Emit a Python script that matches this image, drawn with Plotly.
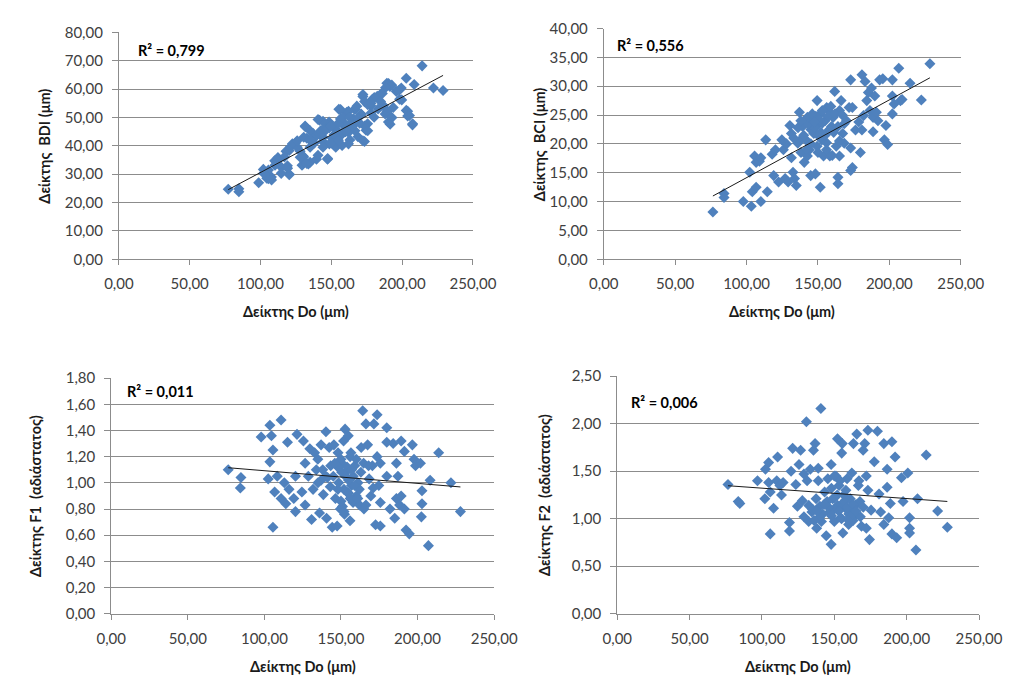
import numpy as np
import plotly.graph_objects as go

# ---------------- data ----------------
# Panel A: Do vs BDI
do_bdi = [77.2, 84.7, 84.7, 98.7, 103.2, 105.5, 107.7, 102.0, 110.0, 112.3, 114.6, 120.2, 119.0, 118.0,
          121.3, 124.7, 128.0, 130.0, 131.5, 132.7, 133.8, 135.0, 137.2, 139.5, 141.7, 142.8, 144.0, 146.2,
          147.3, 148.4, 150.7, 153.0, 154.0, 155.3, 156.4, 157.5, 158.7, 160.9, 162.0, 163.1, 165.4, 166.5,
          168.8, 171.0, 172.3, 173.4, 174.5, 175.6, 177.9, 179.0, 180.2, 182.4, 184.6, 186.9, 188.0, 189.2,
          190.3, 191.4, 192.5, 193.7, 195.9, 198.2, 199.4, 202.9, 202.9, 205.2, 207.4, 208.5, 214.1, 222.1,
          228.9, 190.4, 192.7, 188.2, 198.0, 199.7, 186.0, 180.3, 172.3, 173.5, 184.8, 189.3, 192.7, 191.5,
          203.9, 203.9, 207.3, 175.7, 178.0, 171.2, 166.7, 168.9, 162.1, 156.5, 164.4, 159.9, 173.5, 175.7,
          172.3, 166.7, 162.1, 157.6, 153.1, 148.6, 144.1, 140.6, 131.6, 135.0, 139.5, 144.1, 148.6, 153.1,
          157.6, 162.1, 144.1, 147.4, 140.6, 135.0, 130.5, 129.3, 132.7, 125.9, 122.5, 125.9, 130.5, 120.3,
          116.9, 112.4, 110.2, 119.1, 120.3, 114.6, 105.6, 104.4, 102.2, 107.8,
          145.0, 150.0, 152.0, 155.0, 158.0, 160.0, 163.0, 165.0, 150.0, 138.0, 142.0, 170.0, 168.0, 178.0,
          183.0, 135.0, 155.0, 128.0]
bdi = [24.7, 24.9, 23.8, 27.0, 30.6, 28.4, 29.0, 31.7, 34.7, 35.9, 32.5, 30.1, 33.0, 38.1,
       39.8, 41.0, 38.1, 36.4, 47.0, 42.7, 33.6, 34.2, 44.3, 35.3, 49.0, 45.5, 41.5, 46.6,
       35.3, 48.4, 42.7, 39.9, 45.5, 52.9, 49.5, 44.3, 47.2, 51.8, 46.6, 42.1, 49.5, 52.9,
       43.2, 51.2, 58.1, 41.5, 45.5, 47.8, 54.1, 56.4, 50.1, 57.5, 58.1, 54.1, 51.2, 62.1,
       48.4, 60.9, 50.1, 53.5, 59.2, 56.4, 60.4, 63.8, 52.5, 50.7, 47.8, 61.6, 68.2, 60.4,
       59.5, 62.0, 61.4, 60.5, 59.7, 56.2, 58.5, 57.0, 57.4, 55.6, 55.6, 52.2, 49.9, 47.6,
       52.2, 50.5, 47.4, 54.5, 51.6, 51.0, 52.8, 49.9, 52.2, 52.8, 48.2, 47.6, 47.0, 45.3,
       41.8, 45.3, 44.7, 44.1, 43.0, 46.4, 48.7, 49.3, 46.7, 45.3, 43.6, 43.0, 40.7, 39.5,
       40.1, 40.7, 39.5, 35.5, 36.7, 39.5, 36.1, 33.2, 33.8, 39.5, 40.7, 41.8, 43.0, 38.4,
       36.1, 34.9, 33.2, 32.1, 29.8, 30.3, 31.5, 28.6, 30.3, 28.0,
       45.0, 47.0, 44.0, 48.0, 50.0, 45.0, 50.0, 47.0, 41.0, 41.0, 44.0, 48.0, 54.0, 55.0,
       53.0, 42.0, 42.0, 36.0]

# Panel B: Do vs BCI
do_bci = [76.4, 84.2, 84.2, 97.7, 102.2, 103.3, 104.0, 106.7, 105.6, 106.7, 109.0, 110.0, 110.0, 113.4,
          114.5, 117.9, 119.0, 120.2, 122.4, 124.7, 125.8, 127.0, 129.1, 130.3, 131.4, 131.4, 132.5, 133.6,
          134.8, 135.9, 137.0, 138.1, 139.2, 140.4, 141.5, 142.6, 142.6, 144.9, 146.0, 147.1, 148.2, 149.4,
          149.4, 150.5, 151.6, 151.6, 152.7, 153.9, 155.0, 156.1, 157.2, 158.3, 159.5, 160.6, 161.7, 162.8,
          164.0, 164.0, 165.1, 165.1, 166.2, 167.3, 168.4, 168.4, 171.8, 172.9, 172.9, 172.9, 174.1, 174.1,
          176.3, 178.6, 179.7, 180.8, 180.8, 181.9, 183.0, 184.2, 185.3, 186.4, 187.5, 188.6, 188.6, 189.8,
          190.9, 192.0, 193.2, 195.4, 197.6, 196.5, 198.8, 202.1, 202.1, 202.1, 203.3, 206.6, 207.8, 208.9,
          214.5, 222.4, 228.4, 145.0, 148.5, 153.0, 156.0, 158.5, 144.0, 150.0, 161.0, 139.0, 136.0,
          143.0, 146.0, 148.0, 151.0, 153.0, 155.0, 157.0, 159.0, 162.0, 164.0, 167.0, 170.0, 140.0, 138.0,
          145.0, 150.0, 156.0, 160.0, 165.0, 147.0, 152.0, 158.0, 133.0, 128.0, 142.0]
bci = [8.2, 11.4, 10.7, 10.0, 15.1, 9.2, 11.7, 12.5, 17.9, 16.8, 17.0, 17.6, 10.0, 20.7,
       11.7, 18.2, 14.5, 19.0, 13.4, 20.7, 19.0, 14.0, 13.4, 23.2, 21.8, 17.6, 15.1, 14.0,
       12.8, 20.1, 25.5, 18.5, 23.0, 16.8, 20.7, 24.6, 17.9, 14.5, 24.0, 21.8, 14.8, 27.5,
       19.6, 23.5, 25.2, 12.5, 20.7, 17.9, 24.0, 26.3, 22.1, 17.9, 23.0, 24.6, 29.1, 19.6,
       14.2, 13.1, 25.8, 17.9, 27.5, 21.8, 23.5, 20.1, 26.3, 31.1, 19.3, 15.4, 26.3, 15.9,
       22.4, 23.8, 18.5, 22.4, 32.0, 24.9, 30.8, 27.5, 28.9, 25.8, 29.7, 24.6, 22.1, 28.3,
       25.5, 24.0, 31.1, 31.3, 23.2, 20.7, 19.9, 31.1, 28.3, 25.2, 26.9, 33.1, 27.5, 27.7,
       30.5, 27.6, 33.9, 22.5, 24.8, 23.6, 20.2, 25.5, 19.0, 21.5, 22.0, 21.0, 22.8,
       23.5, 25.2, 22.8, 24.2, 25.8, 21.5, 24.8, 26.5, 25.2, 23.0, 25.0, 24.0, 21.5, 24.0,
       20.0, 18.5, 19.0, 18.0, 20.5, 23.8, 22.0, 22.5, 21.0, 20.0, 19.0]

# Panel C: Do vs F1
do_f1 = [76.4, 84.7, 84.3, 97.9, 103.6, 104.6, 103.6, 105.6, 102.5, 105.6, 110.9, 108.4, 106.7, 110.9,
         115.1, 113.0, 116.1, 114.0, 121.3, 120.3, 119.2, 120.3, 125.5, 126.6, 124.5, 126.6, 128.7, 129.7,
         130.8, 131.8, 132.8, 133.9, 134.9, 136.0, 137.0, 138.1, 138.5, 140.2, 140.6, 141.2, 142.3, 143.3,
         144.3, 145.4, 146.4, 147.5, 148.1, 148.5, 149.6, 150.6, 151.7, 152.3, 152.7, 153.1, 153.8, 154.8,
         155.9, 156.5, 156.9, 157.9, 159.0, 160.0, 161.1, 162.1, 163.2, 164.2, 164.8, 166.3, 166.3, 167.4,
         168.4, 169.5, 170.5, 171.5, 172.6, 173.6, 173.6, 174.7, 175.7, 175.7, 175.7, 179.9, 179.9, 179.9,
         182.0, 184.1, 185.1, 186.2, 186.2, 187.2, 188.3, 189.3, 189.3, 191.4, 191.4, 192.5, 194.6, 196.6,
         197.7, 198.7, 201.9, 202.9, 202.9, 202.5, 207.1, 208.2, 213.8, 221.8, 228.0, 150.5, 152.0, 154.0,
         156.0, 158.0, 160.0, 151.0, 155.0, 145.0, 143.0, 137.0, 162.0,
         148.0, 150.0, 153.0, 155.0, 157.0, 159.0, 161.0, 150.0, 146.0, 163.0, 165.0, 152.0, 148.0, 156.0,
         140.0, 135.0, 168.0, 171.0]
f1 = [1.10, 1.04, 0.96, 1.35, 1.44, 1.36, 1.16, 1.25, 1.03, 0.66, 1.48, 1.05, 0.93, 0.88,
      1.31, 1.00, 0.95, 0.84, 1.37, 1.05, 0.88, 0.78, 1.32, 1.15, 0.93, 0.83, 1.05, 1.26,
      0.72, 0.95, 1.23, 1.10, 1.18, 0.77, 1.29, 1.10, 0.91, 1.39, 0.73, 1.04, 1.27, 1.13,
      0.66, 1.29, 0.88, 0.67, 1.23, 1.00, 0.80, 1.15, 1.32, 0.76, 1.41, 1.08, 0.93, 1.36,
      0.71, 1.23, 0.98, 0.85, 1.13, 0.90, 1.00, 0.83, 1.27, 1.55, 1.15, 1.45, 0.83, 1.29,
      1.03, 0.90, 1.13, 1.45, 0.68, 1.52, 1.20, 0.98, 0.85, 1.15, 0.67, 1.42, 1.05, 1.31,
      0.80, 1.30, 0.73, 1.15, 0.88, 1.05, 0.83, 1.32, 0.90, 0.80, 1.24, 0.64, 0.61, 1.29,
      1.18, 1.13, 1.15, 0.94, 0.84, 0.74, 0.52, 1.02, 1.23, 1.00, 0.78, 1.08, 0.95, 1.12,
      0.88, 1.05, 1.18, 0.82, 1.02, 1.05, 0.97, 1.02, 0.95,
      1.12, 1.18, 1.05, 0.92, 1.10, 0.98, 0.88, 0.86, 1.15, 1.08, 0.80, 0.78, 0.95, 1.20,
      1.05, 1.00, 1.13, 0.96]

# Panel D: Do vs F2
do_f2 = [76.5, 83.6, 84.7, 96.9, 102.0, 102.4, 104.6, 105.7, 105.7, 104.6, 108.0, 110.2, 110.8, 112.4,
         113.5, 114.6, 119.0, 119.0, 120.1, 121.2, 123.4, 124.5, 125.6, 126.7, 127.9, 129.0, 129.0, 130.7,
         131.2, 132.3, 132.3, 133.4, 134.5, 135.6, 136.7, 137.4, 137.8, 138.9, 138.9, 140.0, 140.7, 141.1,
         143.3, 144.4, 145.5, 146.7, 147.8, 147.8, 148.9, 150.0, 151.1, 152.2, 152.2, 153.3, 154.4, 155.1,
         155.5, 155.9, 156.6, 157.7, 158.8, 159.9, 161.0, 162.1, 163.2, 164.4, 165.5, 166.6, 167.7, 168.8,
         169.9, 171.0, 172.1, 172.1, 173.2, 173.2, 174.3, 175.4, 177.6, 179.8, 180.9, 182.0, 184.2, 184.2,
         186.5, 186.5, 187.6, 188.7, 189.8, 189.8, 192.0, 193.1, 196.4, 197.5, 200.8, 202.0, 202.0, 202.0,
         206.4, 207.5, 213.5, 221.4, 228.1, 150.0, 155.0, 160.0, 158.0, 162.0, 145.0, 152.0, 148.0, 165.0,
         168.0, 163.0, 135.0, 142.0,
         146.0, 148.0, 150.0, 153.0, 155.0, 157.0, 159.0, 161.0, 163.0, 150.0, 154.0, 158.0, 165.0, 160.0,
         140.0, 138.0, 143.0, 136.0, 167.0, 170.0]
f2 = [1.36, 1.18, 1.16, 1.40, 1.21, 1.52, 1.59, 0.84, 1.28, 1.38, 1.11, 1.40, 1.65, 1.35,
      1.25, 1.38, 0.96, 0.87, 1.50, 1.74, 1.36, 1.13, 1.57, 1.72, 1.19, 1.47, 1.02, 2.02,
      1.40, 1.14, 0.97, 1.52, 1.07, 1.72, 1.79, 1.21, 0.90, 1.53, 1.40, 1.13, 2.16, 0.97,
      1.28, 0.82, 1.42, 1.07, 0.73, 1.57, 1.21, 0.97, 1.45, 1.84, 1.14, 1.35, 1.01, 1.69,
      1.79, 0.85, 1.25, 1.11, 1.42, 0.94, 1.21, 1.48, 1.79, 1.04, 1.89, 1.35, 1.18, 0.92,
      1.72, 1.79, 1.45, 0.90, 1.93, 1.30, 0.78, 1.09, 1.60, 1.92, 1.26, 1.07, 1.79, 0.94,
      1.52, 1.33, 1.01, 1.16, 1.81, 0.84, 1.65, 0.80, 1.43, 1.18, 1.48, 1.01, 0.90, 0.85,
      0.67, 1.21, 1.67, 1.08, 0.91, 1.10, 1.15, 1.05, 1.20, 1.12, 1.18, 1.25, 1.32, 1.15,
      1.02, 0.98, 1.10, 1.05,
      1.12, 1.03, 1.22, 1.08, 1.00, 1.18, 1.12, 1.02, 1.15, 1.45, 1.40, 1.30, 1.08, 0.98,
      1.02, 1.08, 1.15, 0.98, 1.40, 1.12]

r2_labels = ["R² = 0,799", "R² = 0,556", "R² = 0,011", "R² = 0,006"]
y_titles = ["Δείκτης  BDI (μm)", "Δείκτης  BCI (μm)", "Δείκτης F1  (αδιάστατος)", "Δείκτης F2  (αδιάστατος)"]
x_title = "Δείκτης Do (μm)"
y_ranges = [(0, 80, 10), (0, 40, 5), (0, 1.8, 0.2), (0, 2.5, 0.5)]
x_range = (0, 250, 50)

# ---------------- layout geometry (pixels) ----------------
W, H = 1029, 686
# plot boxes: left, right, top, bottom
boxes = [(108, 476, 23, 256), (612, 983, 19, 256), (100, 498, 378, 620), (626, 1002, 376, 620)]
r2_pos = [(126, 42), (624, 36), (114, 392), (638, 403)]
ytitle_x = [31, 546, 22, 551]
xtitle_dy = 54

MARKER = "#4F81BD"
GRID = "#8C8C8C"
FONT = "Lato, Open Sans, sans-serif"
TICKFONT = dict(family=FONT, size=15, color="#404040")
TITLEFONT = dict(family=FONT, size=14.5, color="#1a1a1a")

panels = [(do_bdi, bdi), (do_bci, bci), (do_f1, f1), (do_f2, f2)]

fig = go.Figure()
annotations = []
for i, ((xs, ys), (l, r, t, b)) in enumerate(zip(panels, boxes)):
    n = "" if i == 0 else str(i + 1)
    xa, ya = "x" + n, "y" + n
    xs_arr = np.asarray(xs, dtype=float)
    ys_arr = np.asarray(ys, dtype=float)

    fig.add_trace(go.Scatter(
        x=xs_arr, y=ys_arr, mode="markers", xaxis=xa, yaxis=ya,
        marker=dict(symbol="diamond", size=8.5, color=MARKER, line=dict(width=0)),
        showlegend=False, hoverinfo="x+y"))

    # linear trend line over the observed Do range
    slope, intercept = np.polyfit(xs_arr, ys_arr, 1)
    xl = np.array([xs_arr.min(), xs_arr.max()])
    fig.add_trace(go.Scatter(
        x=xl, y=slope * xl + intercept, mode="lines", xaxis=xa, yaxis=ya,
        line=dict(color="#1a1a1a", width=1), showlegend=False, hoverinfo="skip"))

    y0, y1, dy = y_ranges[i]
    common = dict(showline=True, linecolor=GRID, linewidth=1, ticks="outside", tickcolor=GRID,
                  tickfont=TICKFONT, zeroline=False, tickformat=".2f")
    fig.layout["xaxis" + n] = dict(
        domain=[l / W, r / W], anchor=ya, range=[x_range[0], x_range[1]], dtick=x_range[2],
        tick0=0, showgrid=False, ticklen=5, ticklabelstandoff=6, **common)
    fig.layout["yaxis" + n] = dict(
        domain=[1 - b / H, 1 - t / H], anchor=xa, range=[y0, y1], dtick=dy, tick0=0,
        showgrid=True, gridcolor=GRID, gridwidth=1, ticklen=6, ticklabelstandoff=6, **common)

    annotations.append(dict(
        text="<b>%s</b>" % r2_labels[i], x=r2_pos[i][0] / W, y=1 - r2_pos[i][1] / H,
        xref="paper", yref="paper", xanchor="left", yanchor="middle", showarrow=False,
        font=dict(family=FONT, size=14.5, color="#000000")))
    annotations.append(dict(
        text="<b>%s</b>" % x_title, x=(l + r) / 2 / W, y=1 - (b + xtitle_dy) / H,
        xref="paper", yref="paper", xanchor="center", yanchor="middle", showarrow=False,
        font=TITLEFONT))
    annotations.append(dict(
        text="<b>%s</b>" % y_titles[i], x=ytitle_x[i] / W, y=1 - (t + b) / 2 / H,
        xref="paper", yref="paper", xanchor="center", yanchor="middle", showarrow=False,
        textangle=-90, font=TITLEFONT))

fig.update_layout(
    width=W, height=H, autosize=False,
    margin=dict(l=0, r=0, t=0, b=0),
    paper_bgcolor="white", plot_bgcolor="white",
    separators=", ",
    annotations=annotations,
)

fig.write_html("out.html")
